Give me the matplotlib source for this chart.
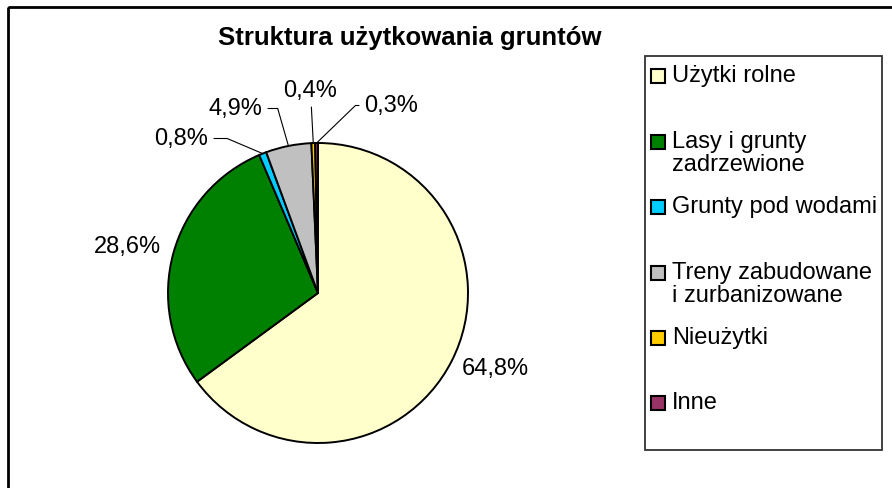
import numpy as np
import matplotlib
matplotlib.use("Agg")
import matplotlib.pyplot as plt
from matplotlib.patches import Rectangle

plt.rcParams['font.family'] = ['Liberation Sans', 'DejaVu Sans']

# dane
categories = ['Użytki rolne', 'Lasy i grunty\nzadrzewione', 'Grunty pod wodami',
              'Treny zabudowane\ni zurbanizowane', 'Nieużytki', 'Inne']
shares = [64.8, 28.6, 0.8, 4.9, 0.4, 0.3]
pct_labels = ['64,8%', '28,6%', '0,8%', '4,9%', '0,4%', '0,3%']
colors = ['#FFFFCC', '#008000', '#00CCFF', '#C0C0C0', '#FFCC00', '#993366']

# pozycje etykiet (w promieniach kola) i ksztalt linii odniesienia
label_pos = [(1.18, -0.51), (-1.27, 0.31), (-0.91, 1.03),
             (-0.55, 1.23), (-0.05, 1.35), (0.49, 1.25)]
leader = [None, None,
          "angle,angleA=0,angleB=157,rad=0",
          "angle,angleA=0,angleB=106,rad=0",
          "arc3,rad=0",
          "angle,angleA=0,angleB=44,rad=0"]

FS = 17
W, H = 892, 488
fig = plt.figure(figsize=(W / 100, H / 100), dpi=100)

def fx(px):
    return px / W

def fy(py):
    return 1 - py / H

# ramka wykresu (prawa i dolna krawedz poza obrazem)
fig.add_artist(Rectangle((fx(8), fy(7)), 2, -2, transform=fig.transFigure,
                         fill=False, edgecolor='black', lw=2))

fig.text(fx(410), fy(38), 'Struktura użytkowania gruntów', ha='center', va='center',
         fontsize=18.5, fontweight='bold')

# kolo: srodek (318, 293), promien 150 px
ax = fig.add_axes([fx(168), fy(443), 300 / W, 300 / H])
wedges, _ = ax.pie(shares, colors=colors, startangle=90, counterclock=False,
                   wedgeprops=dict(edgecolor='black', linewidth=1.4))
ax.set_xlim(-1, 1)
ax.set_ylim(-1, 1)
ax.set_aspect('equal')
ax.axis('off')

for w, txt, pos, cs in zip(wedges, pct_labels, label_pos, leader):
    mid = np.deg2rad((w.theta1 + w.theta2) / 2)
    if cs:
        ax.annotate(txt, xy=(np.cos(mid), np.sin(mid)), xytext=pos,
                    ha='center', va='center', fontsize=FS, annotation_clip=False,
                    arrowprops=dict(arrowstyle='-', color='black', lw=0.8,
                                    connectionstyle=cs, shrinkA=2, shrinkB=0))
    else:
        ax.text(pos[0], pos[1], txt, ha='center', va='center', fontsize=FS)

# legenda
fig.add_artist(Rectangle((fx(645), fy(450)), 237 / W, 394 / H, transform=fig.transFigure,
                         fill=False, edgecolor='#333333', lw=1.3))
box_y = [76, 142, 207, 273, 338, 403]
for y, lab, c in zip(box_y, categories, colors):
    fig.add_artist(Rectangle((fx(651), fy(y + 7)), 14 / W, 14 / H,
                             transform=fig.transFigure, facecolor=c,
                             edgecolor='black', lw=1.5))
    fig.text(fx(672), fy(y - 11), lab, ha='left', va='top', fontsize=FS,
             linespacing=1.05)

fig.savefig('out.png', dpi=100)
